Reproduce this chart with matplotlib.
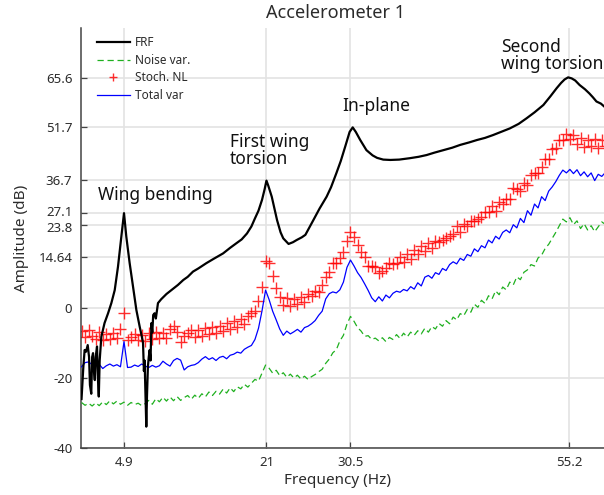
import numpy as np
import matplotlib
matplotlib.use("Agg")
import matplotlib.pyplot as plt
import matplotlib.transforms as mtransforms

plt.rcParams['font.family'] = ['Noto Sans', 'DejaVu Sans']

# ---------------- data ----------------
# common frequency grid of the variance / NL estimates (Hz)
freq = np.round(np.arange(0.1, 59.31, 0.4), 2)

noise_var = [
    -27.0, -27.8, -27.2, -28.0, -27.1, -27.9, -26.8, -27.6, -26.5, -27.4,
    -26.6, -27.5, -26.9, -27.8, -27.0, -27.6, -27.2, -27.9, -27.3, -26.4,
    -27.5, -25.9, -26.8, -25.5, -26.6, -25.4, -26.5, -25.3, -26.4, -25.6,
    -25.0, -26.1, -24.9, -25.8, -24.5, -25.4, -24.0, -25.0, -23.8, -24.6,
    -23.2, -24.3, -22.8, -23.9, -22.5, -23.1, -21.8, -22.6, -21.5, -20.4,
    -20.9, -18.6, -16.3, -17.2, -18.6, -17.8, -19.3, -18.5, -19.8, -18.9,
    -20.0, -19.2, -20.3, -19.5, -20.4, -19.6, -19.0, -18.2, -17.5, -15.8,
    -14.6, -12.8, -11.9, -9.4, -7.8, -4.6, -2.4, -3.8, -5.6, -6.6,
    -8.1, -7.9, -9.0, -8.6, -9.4, -8.5, -9.6, -8.4, -9.0, -7.6,
    -8.7, -7.2, -8.3, -6.9, -7.8, -6.5, -7.4, -5.8, -6.9, -5.3,
    -6.0, -4.4, -5.2, -3.6, -4.5, -2.6, -3.4, -1.6, -2.2, -0.4,
    -1.2, 1.1, 0.2, 2.2, 1.3, 3.5, 2.6, 4.9, 3.8, 6.0,
    5.2, 7.4, 6.6, 8.9, 8.1, 10.2, 10.9, 12.4, 12.0, 14.3,
    15.1, 17.0, 18.2, 19.9, 21.6, 23.5, 25.4, 24.6, 25.8, 23.8,
    24.9, 22.7, 24.1, 22.3, 23.5, 21.8, 23.2, 24.6, 23.9,
]

total_var = [
    -16.8, -15.6, -15.4, -16.2, -15.7, -16.1, -17.3, -16.5, -16.0, -16.6,
    -16.2, -16.8, -9.6, -17.0, -16.9, -16.3, -16.7, -16.0, -16.6, -17.0,
    -16.4, -16.9, -16.5, -15.2, -16.0, -16.6, -15.0, -14.4, -14.9, -17.7,
    -16.8, -16.4, -16.2, -15.6, -14.6, -13.9, -14.7, -14.2, -15.0, -14.1,
    -13.8, -14.5, -13.5, -13.2, -12.6, -12.9, -11.8, -11.2, -10.7, -9.0,
    -5.8, -0.8, 5.1, 2.4, -0.9, -3.4, -6.0, -7.8, -6.6, -7.4,
    -6.8, -6.1, -6.9, -5.6, -5.2, -4.5, -3.6, -2.1, -0.9, 2.6,
    4.1, 4.6, 4.3, 5.2, 7.4, 11.6, 13.7, 12.0, 10.1, 8.7,
    6.9, 5.0, 2.9, 1.8, 3.2, 2.0, 3.7, 2.9, 4.2, 4.8,
    4.5, 5.3, 4.9, 6.1, 5.4, 7.2, 6.3, 8.8, 9.3, 8.5,
    10.1, 9.6, 11.3, 10.7, 12.4, 13.2, 12.6, 14.2, 13.6, 15.3,
    14.8, 16.9, 16.1, 17.8, 17.2, 19.4, 18.6, 20.5, 19.7, 21.6,
    22.3, 21.5, 23.8, 22.9, 25.6, 24.4, 27.8, 26.5, 29.7, 28.6,
    31.8, 30.7, 33.4, 34.6, 36.1, 37.9, 39.4, 38.6, 39.6, 38.4,
    39.5, 37.8, 38.9, 37.5, 38.6, 36.4, 38.2, 37.6, 38.7,
]

stoch_nl = [
    -6.5, -8.3, -6.2, -7.9, -8.8, -6.8, -9.1, -7.4, -8.9, -7.1,
    -8.6, -6.0, -1.5, -9.0, -8.4, -7.3, -9.2, -7.6, -9.4, -7.2,
    -8.9, -6.9, -8.7, -7.0, -8.5, -6.1, -5.1, -6.9, -9.8, -8.0,
    -7.1, -6.3, -8.4, -6.4, -7.9, -5.7, -7.4, -5.3, -7.1, -5.0,
    -6.6, -4.4, -6.1, -3.8, -5.4, -3.1, -4.7, -2.3, -1.4, -0.9,
    1.9, 6.0, 13.5, 12.8, 9.1, 5.7, 3.1, 1.0, 2.8, 0.7,
    2.5, 1.1, 3.1, 1.8, 3.9, 3.3, 4.8, 4.5, 6.6, 8.8,
    10.4, 12.8, 12.9, 14.4, 16.0, 19.2, 21.8, 20.4, 18.1, 15.9,
    14.7, 11.9, 12.0, 11.7, 10.1, 10.7, 11.3, 13.0, 12.6, 12.9,
    14.5, 13.1, 15.4, 14.0, 16.7, 15.3, 17.8, 16.4, 18.5, 17.1,
    19.2, 18.8, 19.5, 19.9, 20.6, 21.1, 23.4, 21.8, 24.1, 23.4,
    25.0, 24.8, 25.5, 25.9, 27.4, 27.3, 29.1, 27.8, 30.3, 29.6,
    31.2, 31.1, 34.2, 34.0, 33.3, 35.7, 35.2, 38.1, 38.5, 38.7,
    40.3, 42.5, 42.7, 45.4, 45.8, 47.9, 48.0, 49.6, 48.2, 49.4,
    46.8, 48.7, 45.9, 48.0, 46.4, 48.3, 45.7, 47.9, 46.3,
]

frf_freq = [
    0.1, 0.3, 0.45, 0.6, 0.8, 0.95, 1.05, 1.2, 1.3, 1.4,
    1.5, 1.6, 1.7, 1.85, 1.95, 2.05, 2.15, 2.34, 2.7, 3.1,
    3.47, 3.85, 4.22, 4.6, 4.9, 5.16, 5.54, 5.92, 6.3, 6.67,
    6.9, 7.05, 7.15, 7.23, 7.3, 7.42, 7.5, 7.6, 7.7, 7.8,
    7.9, 8.0, 8.1, 8.2, 8.36, 8.5, 8.74, 9.1, 9.7, 10.5,
    11.0, 11.6, 12.1, 12.7, 13.3, 14.2, 15.0, 16.1, 16.9, 17.6,
    18.2, 18.8, 19.3, 19.7, 20.1, 20.5, 20.8, 21.0, 21.2, 21.6,
    22.2, 22.6, 22.9, 23.5, 24.0, 24.4, 25.0, 25.4, 26.3, 27.0,
    27.8, 28.3, 28.9, 29.4, 29.9, 30.4, 30.75, 31.1, 31.6, 32.3,
    33.0, 33.5, 34.2, 35.0, 36.0, 37.2, 38.2, 39.1, 40.0, 41.0,
    42.0, 42.9, 43.9, 44.8, 45.7, 46.6, 47.5, 48.5, 49.5, 50.4,
    51.3, 52.3, 53.1, 53.8, 54.3, 54.7, 55.1, 55.5, 55.9, 56.4,
    57.0, 57.5, 57.9, 58.3, 58.8, 59.3,
]
frf = [
    -26.0, -17.0, -12.0, -12.5, -10.6, -14.0, -22.0, -24.5, -14.0, -12.9,
    -18.0, -20.6, -14.0, -11.0, -20.0, -25.3, -15.0, -8.2, -4.3, -1.5,
    1.4, 5.1, 11.8, 20.4, 27.1, 20.4, 12.8, 6.1, -0.6, -5.3,
    -8.0, -10.0, -18.0, -15.0, -22.0, -33.9, -25.0, -16.8, -14.0, -12.0,
    -15.0, -4.3, -7.0, -2.0, -1.5, -3.0, 1.4, 2.5, 4.0, 5.6,
    6.6, 8.0, 8.9, 10.4, 11.3, 12.8, 14.0, 15.6, 17.2, 18.5,
    19.6, 21.3, 23.3, 25.6, 27.8, 30.9, 34.0, 36.4, 35.0, 31.8,
    25.1, 21.6, 19.9, 18.3, 18.8, 19.4, 20.2, 20.9, 25.1, 28.4,
    31.8, 34.5, 38.5, 42.0, 46.1, 50.3, 51.6, 50.3, 48.0, 45.1,
    43.6, 42.9, 42.4, 42.3, 42.4, 42.8, 43.2, 43.7, 44.4, 45.1,
    45.8, 46.6, 47.3, 48.0, 48.6, 49.4, 50.3, 51.3, 52.6, 54.2,
    55.9, 58.0, 60.5, 62.8, 64.3, 65.3, 65.9, 65.6, 65.0, 63.7,
    62.5, 61.3, 60.2, 59.0, 58.4, 57.3,
]

xticks = [4.9, 21, 30.5, 55.2]
xtick_labels = ["4.9", "21", "30.5", "55.2"]
yticks = [-40, -20, 0, 14.64, 23.8, 27.1, 36.7, 51.7, 65.6]
ytick_labels = ["-40", "-20", "0", "14.64", "23.8", "27.1", "36.7", "51.7", "65.6"]

# ---------------- figure ----------------
W, H = 604, 495
fig = plt.figure(figsize=(W / 100, H / 100), dpi=100)
ax_left = 80.65 / W
ax_bottom = (H - 448) / H
ax_height = (448 - 28) / H
ax_width = (611.5 - 80.65) / W
ax = fig.add_axes([ax_left, ax_bottom, ax_width, ax_height])

text_col = "#2b2b2b"
grid_col = "#e3e3e3"

ax.plot(frf_freq, frf, color="black", lw=1.6, label="FRF", zorder=4)
ax.plot(freq, noise_var, color="#1fb01f", lw=0.9, ls=(0, (5, 3)),
        label="Noise var.", zorder=3)
ax.plot(freq, stoch_nl, ls="none", marker="+", ms=8, mew=1.0,
        color="#ff0000", alpha=0.82, label="Stoch. NL", zorder=2)
ax.plot(freq, total_var, color="#0000ff", lw=0.9, label="Total var", zorder=3)

ax.set_xlim(0, 60)
ax.set_ylim(-40, 80)
ax.set_xticks(xticks)
ax.set_xticklabels(xtick_labels)
ax.set_yticks(yticks)
ax.set_yticklabels(ytick_labels)
ax.grid(True, color=grid_col, lw=1.2, zorder=0)
ax.set_axisbelow(True)
for s in ["top", "right"]:
    ax.spines[s].set_visible(False)
for s in ["left", "bottom"]:
    ax.spines[s].set_color("#444444")
    ax.spines[s].set_linewidth(1.1)
ax.tick_params(direction="in", length=4, width=0.9, color="#444444",
               labelsize=9.5, labelcolor=text_col, pad=6)

# slightly separate the two crowded tick labels
for lab in ax.get_yticklabels():
    if lab.get_text() == "27.1":
        lab.set_transform(lab.get_transform() +
                          mtransforms.ScaledTranslation(0, 1.5 / 72, fig.dpi_scale_trans))
    elif lab.get_text() == "23.8":
        lab.set_transform(lab.get_transform() +
                          mtransforms.ScaledTranslation(0, -1.5 / 72, fig.dpi_scale_trans))

fig.text(338 / W, 1 - 481 / H, "Frequency (Hz)", fontsize=11,
         color=text_col, ha="center", va="center")
fig.text(22 / W, 1 - 238 / H, "Amplitude (dB)", rotation=90, fontsize=11,
         color=text_col, ha="center", va="center")
fig.text(335 / W, 1 - 13 / H, "Accelerometer 1", fontsize=13,
         color=text_col, ha="center", va="center")

leg = ax.legend(loc="upper left", bbox_to_anchor=(0.015, 1.0), frameon=False,
                fontsize=8.5, handlelength=2.8, handletextpad=0.45,
                labelspacing=0.38, borderaxespad=0.3, markerscale=0.75)
for t in leg.get_texts():
    t.set_color(text_col)

ann_kw = dict(fontsize=12.5, color="#111111")
ax.text(8.4, 32.3, "Wing bending", ha="center", va="center", **ann_kw)
ax.text(16.9, 45.0, "First wing\ntorsion", ha="left", va="center",
        linespacing=0.95, **ann_kw)
ax.text(33.4, 57.7, "In-plane", ha="center", va="center", **ann_kw)
ax.text(47.5, 72.2, "Second\nwing torsion", ha="left", va="center",
        linespacing=0.95, **ann_kw)

fig.savefig("out.png", dpi=100)
